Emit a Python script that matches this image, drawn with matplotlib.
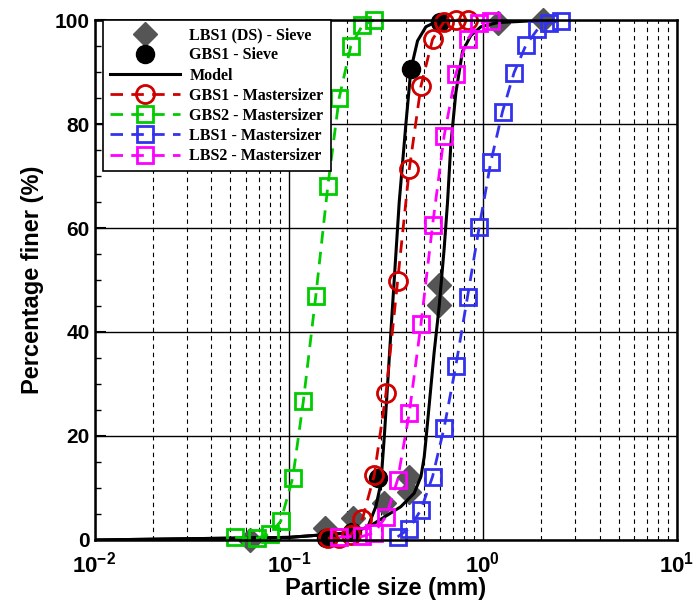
import matplotlib
matplotlib.use("Agg")
import matplotlib.pyplot as plt
from matplotlib.ticker import LogLocator, FixedLocator, MultipleLocator, NullFormatter

sans = 'Liberation Sans'
plt.rcParams['mathtext.fontset'] = 'custom'
plt.rcParams['mathtext.rm'] = 'Liberation Sans:bold'
plt.rcParams['mathtext.bf'] = 'Liberation Sans:bold'

# LBS1 (DS) - sieve
ds_size = [0.063, 0.153, 0.214, 0.31, 0.418, 0.418, 0.596, 0.596, 1.19, 2.03]
ds_pass = [0.0, 2.4, 4.2, 7.1, 9.3, 12.2, 45.2, 49.0, 99.5, 100.0]

# GBS1 - sieve
gs_size = [0.156, 0.212, 0.289, 0.426, 0.603]
gs_pass = [0.3, 1.6, 11.9, 90.5, 99.7]

# model curves
modA_size = [0.01, 0.1, 0.193, 0.255, 0.281, 0.2985, 0.311, 0.340, 0.371, 0.4015,
             0.426, 0.461, 0.509, 0.585, 0.645, 0.80]
modA_pass = [0.0, 0.5, 1.3, 2.4, 6.4, 10.9, 20.0, 43.0, 65.0, 80.0,
             90.5, 96.0, 98.7, 99.8, 100.0, 100.0]
modB_size = [0.01, 0.1, 0.193, 0.255, 0.323, 0.378, 0.443, 0.480, 0.499, 0.509,
             0.561, 0.596, 0.632, 0.658, 0.684, 0.726, 0.786, 0.867, 0.977, 1.19, 2.15]
modB_pass = [0.0, 0.5, 1.3, 2.4, 4.8, 6.4, 9.0, 12.2, 16.0, 19.2,
             36.0, 45.0, 56.0, 65.0, 76.0, 86.0, 94.0, 97.0, 98.7, 99.5, 100.0]

# Mastersizer
gbs1_size = [0.159, 0.182, 0.209, 0.240, 0.276, 0.317, 0.364, 0.418, 0.480, 0.551,
             0.632, 0.726, 0.834]
gbs1_pass = [0.3, 0.3, 1.0, 4.1, 12.5, 28.2, 49.8, 71.3, 87.3, 96.3, 99.7, 100.0, 100.0]

gbs2_size = [0.053, 0.069, 0.080, 0.091, 0.105, 0.119, 0.138, 0.159, 0.182, 0.209,
             0.240, 0.276]
gbs2_pass = [0.5, 0.4, 1.1, 3.6, 12.0, 26.7, 47.0, 68.0, 85.0, 95.0, 99.0, 100.0]

lbs1_size = [0.364, 0.418, 0.480, 0.551, 0.632, 0.726, 0.834, 0.957, 1.099, 1.263,
             1.449, 1.664, 1.912, 2.194, 2.519]
lbs1_pass = [0.6, 2.2, 5.8, 12.2, 21.6, 33.5, 46.8, 60.1, 72.7, 82.4,
             89.9, 95.1, 98.2, 99.5, 99.8]

lbs2_size = [0.182, 0.240, 0.276, 0.317, 0.364, 0.418, 0.480, 0.551, 0.632, 0.726,
             0.834, 0.957, 1.099]
lbs2_pass = [0.6, 0.7, 1.4, 4.5, 11.6, 24.4, 41.5, 60.6, 77.7, 89.7,
             96.3, 99.4, 99.8]

fig = plt.figure(figsize=(6.96, 6.03), dpi=100)
ax = fig.add_axes([0.1358, 0.1045, 0.9727 - 0.1358, 0.9668 - 0.1045])

ax.set_xscale('log')
ax.set_xlim(0.01, 10)
ax.set_ylim(0, 100)

# grid
ax.xaxis.set_minor_locator(LogLocator(base=10, subs=range(2, 10)))
ax.xaxis.set_minor_formatter(NullFormatter())
ax.grid(True, which='minor', axis='x', color='k', lw=0.8, linestyle=(0, (4, 3.5)))
ax.grid(True, which='major', axis='x', color='k', lw=1.0)
ax.yaxis.set_major_locator(MultipleLocator(20))
ax.yaxis.set_minor_locator(MultipleLocator(5))
ax.grid(True, which='major', axis='y', color='k', lw=1.0)
ax.set_axisbelow(True)

dash = (0, (4.5, 3))
kw = dict(clip_on=False)
ax.plot(ds_size, ds_pass, 'D', color='#555555', ms=12, mec='#555555', label='LBS1 (DS) - Sieve', **kw)
ax.plot(gs_size, gs_pass, 'o', color='k', ms=13, label='GBS1 - Sieve', **kw)
ax.plot(modA_size, modA_pass, '-', color='k', lw=2.2, label='Model')
ax.plot(modB_size, modB_pass, '-', color='k', lw=2.2)
ax.plot(gbs1_size, gbs1_pass, linestyle=dash, color='#d00000', lw=2, marker='o', ms=13,
        mfc='none', mec='#d00000', mew=2, label='GBS1 - Mastersizer', **kw)
ax.plot(gbs2_size, gbs2_pass, linestyle=dash, color='#00cc00', lw=2, marker='s', ms=11,
        mfc='none', mec='#00cc00', mew=2, label='GBS2 - Mastersizer', **kw)
ax.plot(lbs1_size, lbs1_pass, linestyle=dash, color='#3333ee', lw=2, marker='s', ms=11,
        mfc='none', mec='#3333ee', mew=2, label='LBS1 - Mastersizer', **kw)
ax.plot(lbs2_size, lbs2_pass, linestyle=dash, color='#ff00ff', lw=2, marker='s', ms=11,
        mfc='none', mec='#ff00ff', mew=2, label='LBS2 - Mastersizer', **kw)

ax.xaxis.set_major_locator(FixedLocator([0.01, 0.1, 1, 10]))
ax.set_xticklabels([r'$10^{-2}$', r'$10^{-1}$', r'$10^{0}$', r'$10^{1}$'])
ax.tick_params(axis='x', which='both', length=0, pad=8, labelsize=16)
ax.tick_params(axis='y', which='major', direction='in', length=8, width=1.5, labelsize=15)
ax.tick_params(axis='y', which='minor', direction='in', length=4, width=1)
for lab in ax.get_yticklabels():
    lab.set_fontfamily(sans)
    lab.set_fontweight('bold')
for sp in ax.spines.values():
    sp.set_linewidth(1.8)

ax.set_xlabel('Particle size (mm)', fontsize=17, fontweight='bold', family=sans, labelpad=0)
ax.set_ylabel('Percentage finer (%)', fontsize=17, fontweight='bold', family=sans, labelpad=8)

leg = ax.legend(loc='upper left', bbox_to_anchor=(0.0146, 1.0), borderaxespad=0,
                numpoints=1, handlelength=4.4, fancybox=False, framealpha=1,
                edgecolor='k', prop={'family': 'Liberation Serif', 'weight': 'bold', 'size': 11.5},
                labelspacing=0.26, borderpad=0.45, handletextpad=0.55)
leg.get_frame().set_linewidth(1.2)

fig.savefig('out.png', dpi=100)
